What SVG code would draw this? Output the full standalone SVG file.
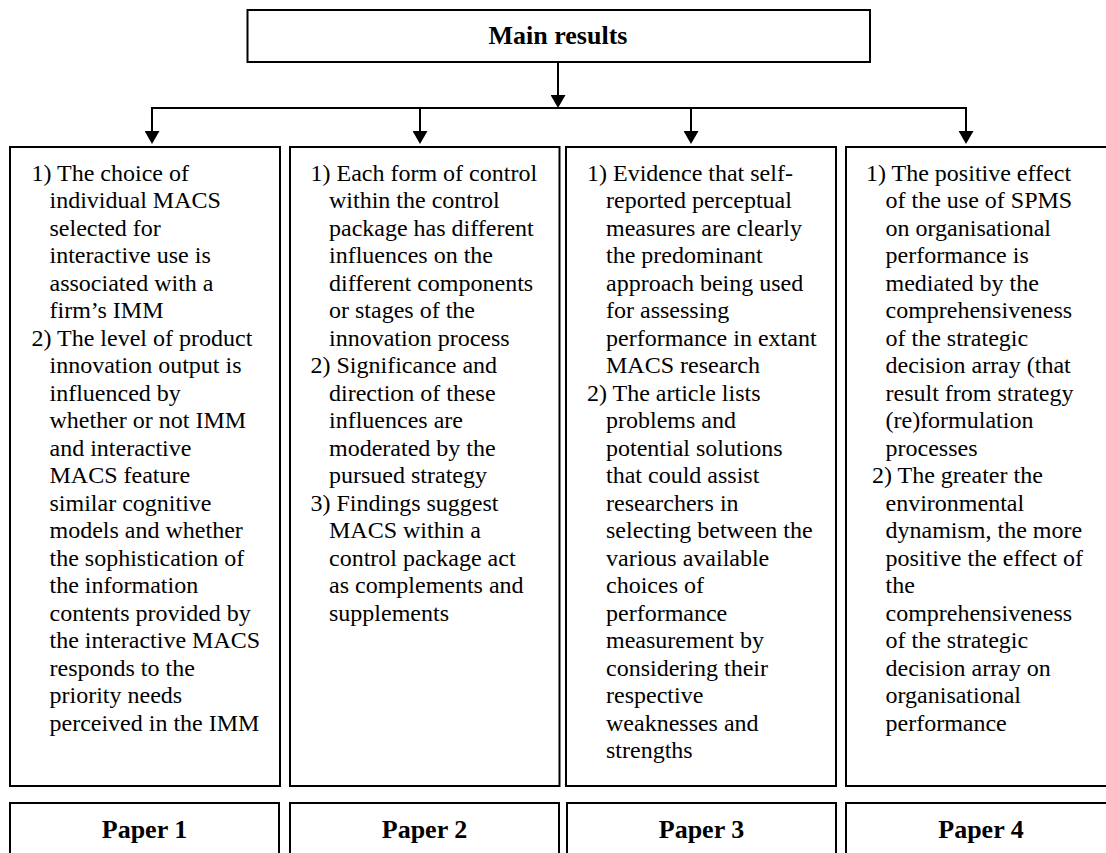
<svg xmlns="http://www.w3.org/2000/svg" width="1106" height="853" viewBox="0 0 1106 853">
<style>
.box{fill:#fff;stroke:#000;stroke-width:2}
.t{font-family:"Liberation Serif","Times New Roman",serif;font-size:24px;fill:#000}
.h{font-family:"Liberation Serif","Times New Roman",serif;font-size:26px;font-weight:bold;fill:#000;text-anchor:middle}
.c{stroke:#000;stroke-width:2;fill:none}
</style>
<defs>
<marker id="ah" markerUnits="userSpaceOnUse" markerWidth="13" markerHeight="15" viewBox="0 0 13 15" refX="11" refY="7.5" orient="auto">
<path d="M0,0 L13,7.5 L0,15 z" fill="#000"/>
</marker>
</defs>
<rect width="1106" height="853" fill="#fff"/>
<g id="connectors">
<line class="c" x1="558" y1="62" x2="558" y2="106" marker-end="url(#ah)"/>
<line class="c" x1="151" y1="108" x2="967" y2="108"/>
<line class="c" x1="152" y1="108" x2="152" y2="142" marker-end="url(#ah)"/>
<line class="c" x1="420" y1="108" x2="420" y2="142" marker-end="url(#ah)"/>
<line class="c" x1="691" y1="108" x2="691" y2="142" marker-end="url(#ah)"/>
<line class="c" x1="966" y1="108" x2="966" y2="142" marker-end="url(#ah)"/>
</g>
<g id="main">
<rect class="box" x="247.5" y="10" width="622.5" height="52"/>
<text class="h" x="558" y="44">Main results</text>
</g>
<g id="box1">
<rect class="box" x="10" y="147" width="270" height="639"/>
<text class="t">
<tspan x="31.5" y="180.5">1) The choice of</tspan>
<tspan x="49.5" y="208">individual MACS</tspan>
<tspan x="49.5" y="235.5">selected for</tspan>
<tspan x="49.5" y="263">interactive use is</tspan>
<tspan x="49.5" y="290.5">associated with a</tspan>
<tspan x="49.5" y="318">firm’s IMM</tspan>
<tspan x="31.5" y="345.5">2) The level of product</tspan>
<tspan x="49.5" y="373">innovation output is</tspan>
<tspan x="49.5" y="400.5">influenced by</tspan>
<tspan x="49.5" y="428">whether or not IMM</tspan>
<tspan x="49.5" y="455.5">and interactive</tspan>
<tspan x="49.5" y="483">MACS feature</tspan>
<tspan x="49.5" y="510.5">similar cognitive</tspan>
<tspan x="49.5" y="538">models and whether</tspan>
<tspan x="49.5" y="565.5">the sophistication of</tspan>
<tspan x="49.5" y="593">the information</tspan>
<tspan x="49.5" y="620.5">contents provided by</tspan>
<tspan x="49.5" y="648">the interactive MACS</tspan>
<tspan x="49.5" y="675.5">responds to the</tspan>
<tspan x="49.5" y="703">priority needs</tspan>
<tspan x="49.5" y="730.5">perceived in the IMM</tspan>
</text>
</g>
<g id="box2">
<rect class="box" x="290" y="147" width="269.5" height="639"/>
<text class="t">
<tspan x="310.5" y="180.5">1) Each form of control</tspan>
<tspan x="329" y="208">within the control</tspan>
<tspan x="329" y="235.5">package has different</tspan>
<tspan x="329" y="263">influences on the</tspan>
<tspan x="329" y="290.5">different components</tspan>
<tspan x="329" y="318">or stages of the</tspan>
<tspan x="329" y="345.5">innovation process</tspan>
<tspan x="310.5" y="373">2) Significance and</tspan>
<tspan x="329" y="400.5">direction of these</tspan>
<tspan x="329" y="428">influences are</tspan>
<tspan x="329" y="455.5">moderated by the</tspan>
<tspan x="329" y="483">pursued strategy</tspan>
<tspan x="310.5" y="510.5">3) Findings suggest</tspan>
<tspan x="329" y="538">MACS within a</tspan>
<tspan x="329" y="565.5">control package act</tspan>
<tspan x="329" y="593">as complements and</tspan>
<tspan x="329" y="620.5">supplements</tspan>
</text>
</g>
<g id="box3">
<rect class="box" x="566" y="147" width="270" height="639"/>
<text class="t">
<tspan x="587" y="180.5">1) Evidence that self-</tspan>
<tspan x="606" y="208">reported perceptual</tspan>
<tspan x="606" y="235.5">measures are clearly</tspan>
<tspan x="606" y="263">the predominant</tspan>
<tspan x="606" y="290.5">approach being used</tspan>
<tspan x="606" y="318">for assessing</tspan>
<tspan x="606" y="345.5">performance in extant</tspan>
<tspan x="606" y="373">MACS research</tspan>
<tspan x="587" y="400.5">2) The article lists</tspan>
<tspan x="606" y="428">problems and</tspan>
<tspan x="606" y="455.5">potential solutions</tspan>
<tspan x="606" y="483">that could assist</tspan>
<tspan x="606" y="510.5">researchers in</tspan>
<tspan x="606" y="538">selecting between the</tspan>
<tspan x="606" y="565.5">various available</tspan>
<tspan x="606" y="593">choices of</tspan>
<tspan x="606" y="620.5">performance</tspan>
<tspan x="606" y="648">measurement by</tspan>
<tspan x="606" y="675.5">considering their</tspan>
<tspan x="606" y="703">respective</tspan>
<tspan x="606" y="730.5">weaknesses and</tspan>
<tspan x="606" y="758">strengths</tspan>
</text>
</g>
<g id="box4">
<rect class="box" x="846" y="147" width="270" height="639"/>
<text class="t">
<tspan x="866" y="180.5">1) The positive effect</tspan>
<tspan x="885.5" y="208">of the use of SPMS</tspan>
<tspan x="885.5" y="235.5">on organisational</tspan>
<tspan x="885.5" y="263">performance is</tspan>
<tspan x="885.5" y="290.5">mediated by the</tspan>
<tspan x="885.5" y="318">comprehensiveness</tspan>
<tspan x="885.5" y="345.5">of the strategic</tspan>
<tspan x="885.5" y="373">decision array (that</tspan>
<tspan x="885.5" y="400.5">result from strategy</tspan>
<tspan x="885.5" y="428">(re)formulation</tspan>
<tspan x="885.5" y="455.5">processes</tspan>
<tspan x="872" y="483">2) The greater the</tspan>
<tspan x="885.5" y="510.5">environmental</tspan>
<tspan x="885.5" y="538">dynamism, the more</tspan>
<tspan x="885.5" y="565.5">positive the effect of</tspan>
<tspan x="885.5" y="593">the</tspan>
<tspan x="885.5" y="620.5">comprehensiveness</tspan>
<tspan x="885.5" y="648">of the strategic</tspan>
<tspan x="885.5" y="675.5">decision array on</tspan>
<tspan x="885.5" y="703">organisational</tspan>
<tspan x="885.5" y="730.5">performance</tspan>
</text>
</g>
<g id="paper1">
<rect class="box" x="10" y="803" width="269" height="70"/>
<text class="h" x="144.5" y="838">Paper 1</text>
</g>
<g id="paper2">
<rect class="box" x="290" y="803" width="269" height="70"/>
<text class="h" x="424.5" y="838">Paper 2</text>
</g>
<g id="paper3">
<rect class="box" x="567" y="803" width="269" height="70"/>
<text class="h" x="701.5" y="838">Paper 3</text>
</g>
<g id="paper4">
<rect class="box" x="846" y="803" width="270" height="70"/>
<text class="h" x="981" y="838">Paper 4</text>
</g>
</svg>
